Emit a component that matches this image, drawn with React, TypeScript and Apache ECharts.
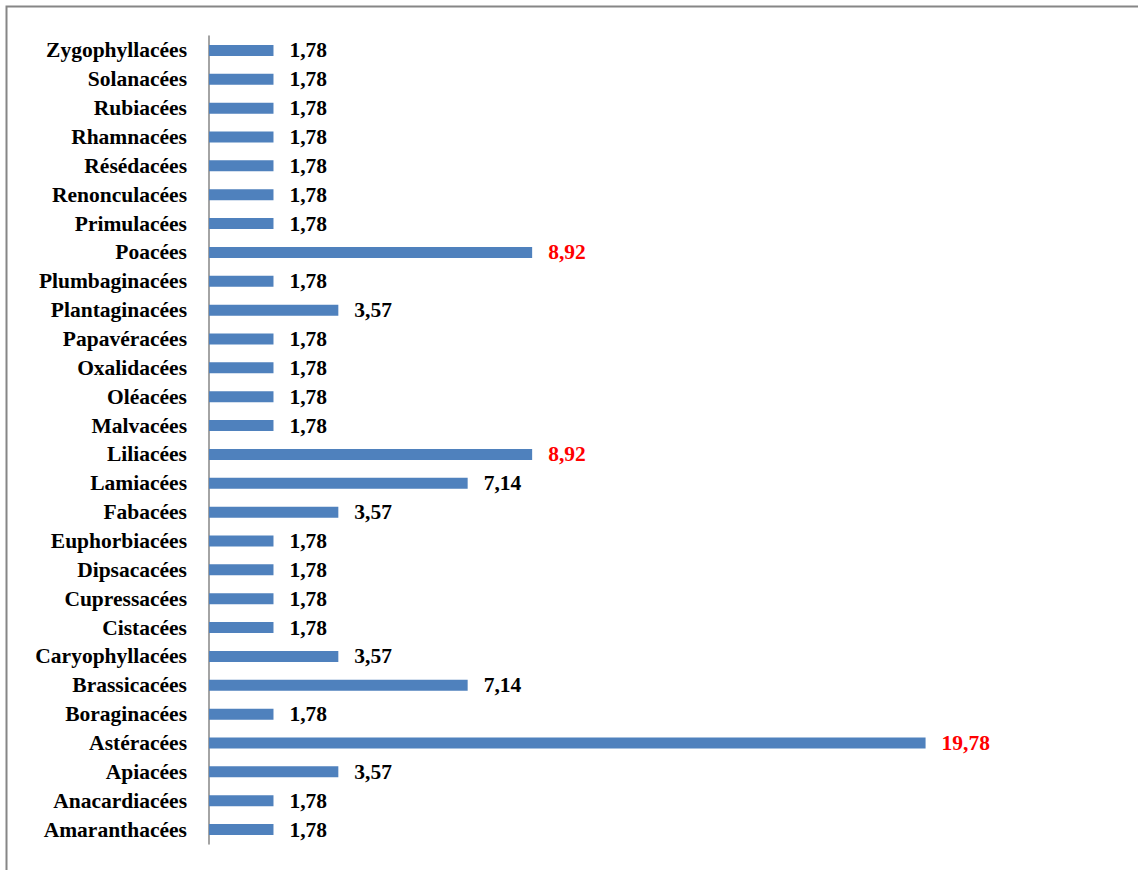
import React, { useEffect, useRef } from "react";
import * as echarts from "echarts";

const categories = [
  "Amaranthacées", "Anacardiacées", "Apiacées", "Astéracées", "Boraginacées",
  "Brassicacées", "Caryophyllacées", "Cistacées", "Cupressacées", "Dipsacacées",
  "Euphorbiacées", "Fabacées", "Lamiacées", "Liliacées", "Malvacées",
  "Oléacées", "Oxalidacées", "Papavéracées", "Plantaginacées", "Plumbaginacées",
  "Poacées", "Primulacées", "Renonculacées", "Résédacées", "Rhamnacées",
  "Rubiacées", "Solanacées", "Zygophyllacées",
];
const values = [
  1.78, 1.78, 3.57, 19.78, 1.78,
  7.14, 3.57, 1.78, 1.78, 1.78,
  1.78, 3.57, 7.14, 8.92, 1.78,
  1.78, 1.78, 1.78, 3.57, 1.78,
  8.92, 1.78, 1.78, 1.78, 1.78,
  1.78, 1.78, 1.78,
];
const highlighted = ["Astéracées", "Liliacées", "Poacées"];

export default function App() {
  const ref = useRef<HTMLDivElement>(null);
  useEffect(() => {
    if (!ref.current) return;
    const chart = echarts.init(ref.current, null, { renderer: "svg" });
    const font = "'Liberation Serif', 'Times New Roman', serif";
    chart.setOption({
      animation: false,
      backgroundColor: "#ffffff",
      graphic: [
        {
          type: "rect",
          shape: { x: 6.5, y: 6.5, width: 1200, height: 1000 },
          style: { fill: "none", stroke: "#868686", lineWidth: 2 },
          silent: true,
        },
      ],
      grid: { left: 209, top: 36, width: 797, height: 808 },
      xAxis: {
        type: "value",
        min: 0,
        max: 22,
        show: false,
      },
      yAxis: {
        type: "category",
        data: categories,
        axisLine: { show: true, lineStyle: { color: "#868686", width: 1.5 } },
        axisTick: { show: false },
        axisLabel: {
          fontFamily: font,
          fontWeight: "bold",
          fontSize: 21.5,
          color: "#000",
          margin: 22,
        },
      },
      series: [
        {
          type: "bar",
          barWidth: 11,
          itemStyle: { color: "#4F81BD" },
          data: values.map((v, i) => ({
            value: v,
            label: {
              color: highlighted.includes(categories[i]) ? "#FF0000" : "#000000",
            },
          })),
          label: {
            show: true,
            position: "right",
            distance: 16,
            fontFamily: font,
            fontWeight: "bold",
            fontSize: 21.5,
            formatter: (p: any) => p.value.toFixed(2).replace(".", ","),
          },
        },
      ],
    });
    return () => chart.dispose();
  }, []);
  return (
    <div
      ref={ref}
      style={{ position: "fixed", left: 0, top: 0, width: 1138, height: 870 }}
    />
  );
}
